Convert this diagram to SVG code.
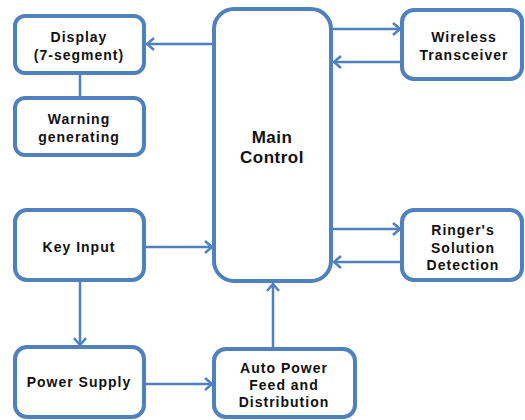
<svg xmlns="http://www.w3.org/2000/svg" width="525" height="420" viewBox="0 0 525 420">
  <style>
    .box { fill: #ffffff; stroke: #4f81bd; stroke-width: 4; }
    .wire { stroke: #4f81bd; stroke-width: 2.5; fill: none; }
    .lbl { font-family: "Liberation Sans", Arial, sans-serif; font-weight: bold; font-size: 14px; letter-spacing: 1px; fill: #111111; text-anchor: middle; dominant-baseline: central; }
    .big { font-size: 17px; letter-spacing: 0.5px; }
  </style>
  <defs>
    <marker id="arrow" markerUnits="userSpaceOnUse" markerWidth="12" markerHeight="14" refX="9" refY="7" orient="auto">
      <path d="M2,1 L9,7 L2,13" fill="none" stroke="#4f81bd" stroke-width="2.5"/>
    </marker>
  </defs>

  <rect width="525" height="420" fill="#ffffff"/>

  <g id="connectors">
    <line class="wire" x1="214" y1="44" x2="147" y2="44" marker-end="url(#arrow)"/>
    <line class="wire" x1="80" y1="75" x2="80" y2="96"/>
    <line class="wire" x1="333" y1="29" x2="400" y2="29" marker-end="url(#arrow)"/>
    <line class="wire" x1="402" y1="62" x2="334" y2="62" marker-end="url(#arrow)"/>
    <line class="wire" x1="333" y1="229" x2="400" y2="229" marker-end="url(#arrow)"/>
    <line class="wire" x1="402" y1="262" x2="334" y2="262" marker-end="url(#arrow)"/>
    <line class="wire" x1="146" y1="247" x2="212" y2="247" marker-end="url(#arrow)"/>
    <line class="wire" x1="80" y1="282" x2="80" y2="345" marker-end="url(#arrow)"/>
    <line class="wire" x1="146" y1="384" x2="212" y2="384" marker-end="url(#arrow)"/>
    <line class="wire" x1="273" y1="347" x2="273" y2="284" marker-end="url(#arrow)"/>
  </g>

  <g id="display">
    <rect class="box" x="15" y="16" width="129" height="57" rx="10"/>
    <text class="lbl" x="79" y="37">Display</text>
    <text class="lbl" x="79" y="55">(7-segment)</text>
  </g>

  <g id="warning">
    <rect class="box" x="15" y="98" width="129" height="57" rx="10"/>
    <text class="lbl" x="79" y="119">Warning</text>
    <text class="lbl" x="79" y="137">generating</text>
  </g>

  <g id="key-input">
    <rect class="box" x="15" y="210" width="129" height="70" rx="12"/>
    <text class="lbl" x="79" y="247">Key Input</text>
  </g>

  <g id="power-supply">
    <rect class="box" x="15" y="347" width="129" height="70" rx="12"/>
    <text class="lbl" x="79" y="382">Power Supply</text>
  </g>

  <g id="main-control">
    <rect class="box" x="214" y="9" width="117" height="272" rx="20"/>
    <text class="lbl big" x="272" y="137">Main</text>
    <text class="lbl big" x="272" y="157">Control</text>
  </g>

  <g id="wireless">
    <rect class="box" x="402" y="10" width="120" height="69" rx="12"/>
    <text class="lbl" x="464" y="37">Wireless</text>
    <text class="lbl" x="464" y="55">Transceiver</text>
  </g>

  <g id="ringer">
    <rect class="box" x="402" y="210" width="120" height="70" rx="12"/>
    <text class="lbl" x="463" y="230">Ringer's</text>
    <text class="lbl" x="463" y="248">Solution</text>
    <text class="lbl" x="463" y="265">Detection</text>
  </g>

  <g id="auto-power">
    <rect class="box" x="214" y="349" width="141" height="68" rx="12"/>
    <text class="lbl" x="284" y="368">Auto Power</text>
    <text class="lbl" x="284" y="385">Feed and</text>
    <text class="lbl" x="284" y="402">Distribution</text>
  </g>
</svg>
